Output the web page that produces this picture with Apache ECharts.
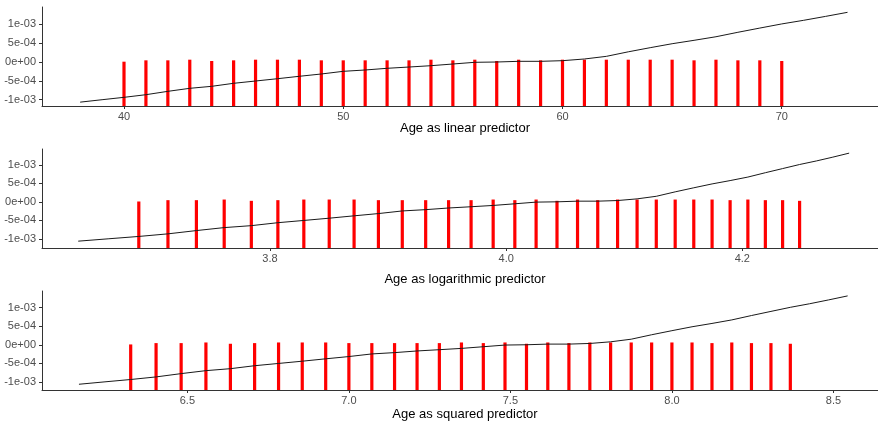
<!DOCTYPE html>
<html>
<head>
<meta charset="utf-8">
<script src="https://cdn.jsdelivr.net/npm/echarts@6/dist/echarts.min.js"></script>
<style>
  html, body { margin: 0; padding: 0; background: #ffffff; }
  #chart { width: 878px; height: 426px; }
</style>
</head>
<body>
<div id="chart"></div>
<script>
// Observed ages (one column of residual points per age)
const pointAges = [40, 41, 42, 43, 44, 45, 46, 47, 48, 49, 50, 51, 52, 53, 54, 55,
                   56, 57, 58, 59, 60, 61, 62, 63, 64, 65, 66, 67, 68, 69, 70];
// Highest residual in each age column
const residualTop = [-1.8e-5, 1.8e-5, 1.8e-5, 3.5e-5, 0, 1.8e-5, 3.5e-5, 3.5e-5, 3.5e-5, 1.8e-5,
                     1.8e-5, 1.8e-5, 1.8e-5, 1.8e-5, 3.5e-5, 1.8e-5, 3.5e-5, 0, 3.5e-5, 1.8e-5,
                     3.5e-5, 3.5e-5, 3.5e-5, 3.5e-5, 3.5e-5, 3.5e-5, 1.8e-5, 3.5e-5, 1.8e-5, 1.8e-5, 0];
// Lowest residual, shared by every column (falls below the visible window)
const residualFloor = -1.3e-3;

// Fitted effect curve
const curveAges = [38, 39, 40, 41, 42, 43, 44, 45, 46, 47, 48, 49, 50, 51, 52, 53, 54, 55,
                   56, 57, 58, 59, 60, 61, 62, 63, 64, 65, 66, 67, 68, 69, 70, 71, 72, 73];
const curveValues = [-1.065e-3, -1.0e-3, -0.937e-3, -0.867e-3, -0.778e-3, -0.698e-3, -0.645e-3,
                     -0.565e-3, -0.504e-3, -0.443e-3, -0.379e-3, -0.318e-3, -0.247e-3, -0.212e-3,
                     -0.167e-3, -0.133e-3, -0.098e-3, -0.053e-3, -0.008e-3, 0.0, 0.018e-3, 0.018e-3,
                     0.035e-3, 0.08e-3, 0.15e-3, 0.27e-3, 0.38e-3, 0.485e-3, 0.575e-3, 0.67e-3,
                     0.788e-3, 0.9e-3, 1.01e-3, 1.106e-3, 1.21e-3, 1.318e-3];

// Axis ticks
const yTickValues = [-1e-3, -5e-4, 0, 5e-4, 1e-3];
const yTickLabels = ['-1e-03', '-5e-04', '0e+00', '5e-04', '1e-03'];
const linearTicks = [40, 50, 60, 70];
const logTicks = [3.8, 4.0, 4.2];
const sqrtTicks = [6.5, 7.0, 7.5, 8.0, 8.5];

const panelTitles = ['Age as linear predictor', 'Age as logarithmic predictor', 'Age as squared predictor'];

const panels = [
  { f: a => a,           ticks: linearTicks, digits: 0, xMin: 36.26, xMax: 74.39, yMin: -1.167e-3, yMax: 1.459e-3, top: 7,   titleY: 128.5 },
  { f: a => Math.log(a), ticks: logTicks,    digits: 1, xMin: 3.6069, xMax: 4.3149, yMin: -1.25e-3, yMax: 1.43e-3,  top: 149, titleY: 279 },
  { f: a => Math.sqrt(a),ticks: sqrtTicks,   digits: 1, xMin: 6.05,  xMax: 8.638, yMin: -1.22e-3,  yMax: 1.45e-3,  top: 291, titleY: 414 }
];

const textColor = '#4d4d4d';
const axisColor = '#333333';

function yLabel(v) {
  let best = 0;
  for (let i = 0; i < yTickValues.length; i++) {
    if (Math.abs(yTickValues[i] - v) < Math.abs(yTickValues[best] - v)) best = i;
  }
  return yTickLabels[best];
}

const grid = [], xAxis = [], yAxis = [], series = [], graphic = [];

panels.forEach((p, i) => {
  grid.push({ left: 42, right: 0, top: p.top, height: 99, containLabel: false });
  xAxis.push({
    type: 'value', gridIndex: i, min: p.xMin, max: p.xMax,
    axisLine: { show: true, onZero: false, lineStyle: { color: axisColor, width: 1 } },
    axisTick: { show: true, length: 3, customValues: p.ticks, lineStyle: { color: axisColor } },
    axisLabel: { show: true, customValues: p.ticks, margin: 5, color: textColor, fontSize: 11,
                 fontFamily: 'Liberation Sans, Arial, sans-serif',
                 formatter: v => v.toFixed(p.digits) },
    splitLine: { show: false }
  });
  yAxis.push({
    type: 'value', gridIndex: i, min: p.yMin, max: p.yMax,
    axisLine: { show: true, lineStyle: { color: axisColor, width: 1 } },
    axisTick: { show: true, length: 3, customValues: yTickValues, lineStyle: { color: axisColor } },
    axisLabel: { show: true, customValues: yTickValues, margin: 6, color: textColor, fontSize: 11,
                 fontFamily: 'Liberation Sans, Arial, sans-serif', formatter: yLabel },
    splitLine: { show: false }
  });

  // residual columns
  series.push({
    type: 'custom', xAxisIndex: i, yAxisIndex: i, clip: true, z: 2,
    encode: { x: 0, y: [1, 2] },
    data: pointAges.map((a, k) => [p.f(a), residualTop[k], residualFloor]),
    renderItem: (params, api) => {
      const x = api.value(0);
      const pTop = api.coord([x, api.value(1)]);
      const pLow = api.coord([x, api.value(2)]);
      return {
        type: 'line',
        shape: { x1: pTop[0], y1: pTop[1] - 1, x2: pLow[0], y2: pLow[1] },
        style: { stroke: '#ff0000', lineWidth: 3.2 }
      };
    }
  });

  // fitted curve
  series.push({
    type: 'line', xAxisIndex: i, yAxisIndex: i, z: 3,
    showSymbol: false, symbol: 'none', silent: true, animation: false,
    lineStyle: { color: '#1a1a1a', width: 1 },
    data: curveAges.map((a, k) => [p.f(a), curveValues[k]])
  });

  graphic.push({
    type: 'text', left: 465, top: p.titleY,
    style: { text: panelTitles[i], fill: '#000000', fontSize: 13,
             fontFamily: 'Liberation Sans, Arial, sans-serif',
             textAlign: 'center', textVerticalAlign: 'middle' }
  });
});

// position titles by their centre
graphic.forEach(g => {
  g.x = g.left; g.y = g.top; delete g.left; delete g.top;
});

const chart = echarts.init(document.getElementById('chart'), null, { renderer: 'canvas' });
chart.setOption({
  animation: false,
  backgroundColor: '#ffffff',
  grid, xAxis, yAxis, series, graphic
});
</script>
</body>
</html>
